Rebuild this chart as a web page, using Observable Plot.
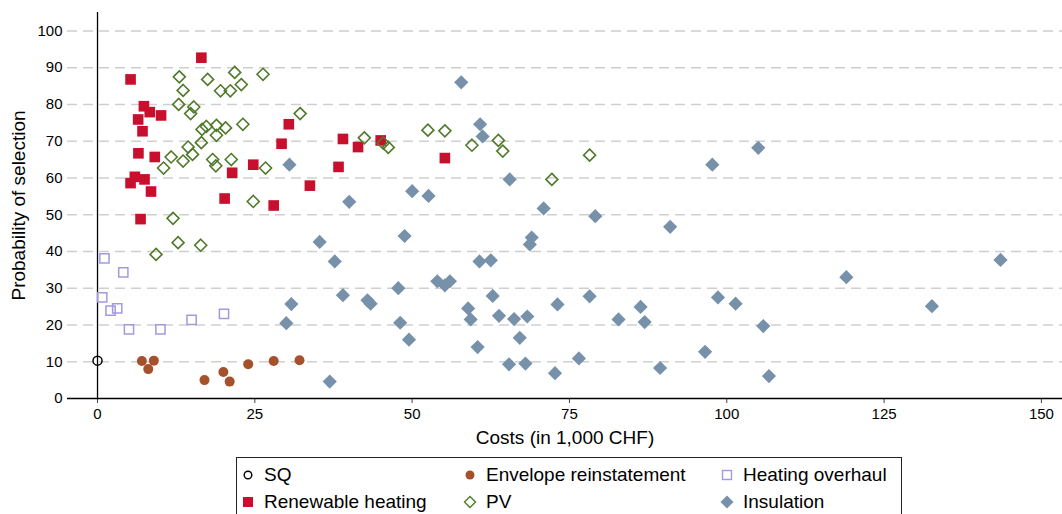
<!DOCTYPE html>
<html>
<head>
<meta charset="utf-8">
<script src="https://cdn.jsdelivr.net/npm/d3@7"></script>
<script src="https://cdn.jsdelivr.net/npm/@observablehq/plot@0.6"></script>
<style>
  html, body { margin: 0; padding: 0; background: #fff; }
  body { width: 1062px; height: 514px; overflow: hidden; position: relative; font-family: "Liberation Sans", Arial, Helvetica, sans-serif; }
  #chart { position: absolute; left: 0; top: 0; }
  #legend { position: absolute; left: 236px; top: 457px; width: 666px; height: 70px; border: 1px solid #222; box-sizing: border-box; }
  .item { position: absolute; font-size: 19px; color: #000; line-height: 22px; white-space: nowrap; }
  .item svg { position: absolute; left: -8px; top: 3px; }
  .item span { position: absolute; left: 16px; top: 0; }
</style>
</head>
<body>
<div id="chart"></div>
<div id="legend"></div>
<script>
// ---- Data (cost in 1,000 CHF, probability of selection in %) ----
const sqCost = [0];
const sqProb = [10.3];

const envelopeCost = [7.05, 8.95, 8.06, 17.0, 20.0, 21.0, 23.95, 28.0, 32.1];
const envelopeProb = [10.2, 10.3, 8.0, 5.0, 7.2, 4.6, 9.3, 10.2, 10.4];

const heatingCost = [1.1, 4.1, 0.75, 2.07, 3.13, 5.0, 10.0, 14.95, 20.1];
const heatingProb = [38.1, 34.3, 27.5, 23.9, 24.5, 18.8, 18.8, 21.4, 23.0];

const renewableCost = [5.25, 16.5, 7.37, 8.3, 10.1, 6.46, 7.15, 6.5, 9.1, 5.93, 7.47, 5.25, 8.5,
  21.4, 24.75, 20.2, 28.0, 29.25, 30.4, 33.75, 38.3, 39.0, 41.4, 45.0, 55.2, 6.84];
const renewableProb = [86.8, 92.7, 79.5, 77.9, 77.0, 75.9, 72.7, 66.7, 65.7, 60.3, 59.6, 58.6, 56.3,
  61.4, 63.6, 54.4, 52.5, 69.3, 74.6, 57.9, 63.0, 70.6, 68.4, 70.2, 65.4, 48.8];

const pvCost = [13.0, 13.6, 17.5, 21.8, 19.55, 21.1, 22.85, 26.3, 12.9, 15.3, 14.8, 32.2, 16.6, 17.3,
  18.9, 20.35, 18.9, 23.1, 16.5, 14.4, 11.7, 13.6, 15.1, 10.5, 18.3, 18.8, 21.25, 26.7, 24.75,
  12.0, 12.8, 16.4, 9.3, 42.4, 45.4, 46.2, 52.5, 55.2, 59.5, 63.7, 64.4, 72.2, 78.2];
const pvProb = [87.5, 83.8, 86.8, 88.7, 83.7, 83.7, 85.4, 88.2, 80.0, 79.3, 77.5, 77.5, 73.2, 74.0,
  74.3, 73.6, 71.6, 74.6, 69.6, 68.4, 65.7, 64.6, 66.4, 62.7, 65.0, 63.3, 65.0, 62.7, 53.6,
  49.0, 42.4, 41.7, 39.2, 70.9, 69.5, 68.3, 73.0, 72.8, 68.9, 70.2, 67.3, 59.6, 66.2];

const insulationCost = [30.5, 40.0, 35.3, 37.7, 39.0, 30.8, 30.0, 36.9, 57.8, 60.8, 61.2, 65.5, 50.0,
  52.6, 70.9, 79.1, 91.0, 48.8, 69.0, 68.7, 60.7, 62.5, 54.0, 55.2, 56.0, 47.8, 42.9, 43.4, 62.8,
  58.9, 59.3, 63.8, 66.2, 68.3, 73.1, 78.2, 86.3, 82.8, 86.95, 48.1, 49.5, 67.1, 60.4, 65.4, 68.0,
  76.5, 72.7, 89.4, 96.55, 98.6, 101.4, 105.8, 106.7, 119.0, 132.6, 143.5, 97.7, 105.0];
const insulationProb = [63.6, 53.5, 42.6, 37.3, 28.1, 25.7, 20.5, 4.6, 86.0, 74.6, 71.3, 59.6, 56.4,
  55.1, 51.7, 49.6, 46.7, 44.2, 43.8, 41.9, 37.3, 37.6, 31.9, 30.8, 31.9, 30.0, 26.7, 25.8, 27.9,
  24.5, 21.5, 22.5, 21.6, 22.3, 25.6, 27.8, 24.9, 21.5, 20.8, 20.6, 16.0, 16.5, 14.0, 9.3, 9.5,
  10.9, 6.9, 8.3, 12.7, 27.5, 25.8, 19.7, 6.1, 33.0, 25.1, 37.7, 63.6, 68.2];

const xTicks = [0, 25, 50, 75, 100, 125, 150];
const yTicks = [0, 10, 20, 30, 40, 50, 60, 70, 80, 90, 100];
const gridTicks = [10, 20, 30, 40, 50, 60, 70, 80, 90, 100];

const seriesNames = ["SQ", "Envelope reinstatement", "Heating overhaul", "Renewable heating", "PV", "Insulation"];

const colors = {
  sq: "#000000",
  envelope: "#a5512b",
  heating: "#a29ae0",
  renewable: "#c8102e",
  pv: "#507a2a",
  insulation: "#7891aa"
};

const toRows = (xs, ys) => xs.map((x, i) => ({cost: x, prob: ys[i]}));
const sq = toRows(sqCost, sqProb);
const envelope = toRows(envelopeCost, envelopeProb);
const heating = toRows(heatingCost, heatingProb);
const renewable = toRows(renewableCost, renewableProb);
const pv = toRows(pvCost, pvProb);
const insulation = toRows(insulationCost, insulationProb);

const font = "'Liberation Sans', Arial, Helvetica, sans-serif";

const chart = Plot.plot({
  width: 1062,
  height: 452,
  marginLeft: 67,
  marginRight: 0,
  marginTop: 12,
  marginBottom: 54,
  style: {fontFamily: font, background: "#fff", color: "#000"},
  x: {domain: [-4.77, 153.35]},
  y: {domain: [0, 105]},
  marks: [
    Plot.ruleY(gridTicks, {stroke: "#cfcfcf", strokeWidth: 1.5, strokeDasharray: "10,6"}),
    Plot.axisY({ticks: yTicks, tickSize: 0, tickPadding: 5, fontSize: 15, label: null}),
    Plot.axisX({ticks: xTicks, tickSize: 5, tickPadding: 5, fontSize: 15, label: null, stroke: "#444"}),
    Plot.ruleX([0], {stroke: "#000", strokeWidth: 1.3}),
    Plot.ruleY([0], {stroke: "#000", strokeWidth: 1.3}),
    Plot.text(["Costs (in 1,000 CHF)"], {frameAnchor: "bottom", dy: 39, fontSize: 19, lineAnchor: "middle", fill: "#000"}),
    Plot.text(["Probability of selection"], {frameAnchor: "left", dx: -49, rotate: -90, fontSize: 19, lineAnchor: "middle", textAnchor: "middle", fill: "#000"}),
    Plot.dot(sq, {x: "cost", y: "prob", r: 4.5, stroke: colors.sq, fill: "none", strokeWidth: 1.5}),
    Plot.dot(envelope, {x: "cost", y: "prob", r: 5, fill: colors.envelope, stroke: "none"}),
    Plot.dot(heating, {x: "cost", y: "prob", symbol: "square", r: 5.2, stroke: colors.heating, fill: "none", strokeWidth: 1.5}),
    Plot.dot(renewable, {x: "cost", y: "prob", symbol: "square", r: 6, fill: colors.renewable, stroke: "none"}),
    Plot.dot(pv, {x: "cost", y: "prob", symbol: "diamond2", r: 5.4, stroke: colors.pv, fill: "none", strokeWidth: 1.6}),
    Plot.dot(insulation, {x: "cost", y: "prob", symbol: "diamond2", r: 6.4, fill: colors.insulation, stroke: "none"})
  ]
});
document.getElementById("chart").appendChild(chart);

// ---- Legend ----
const legendItems = [
  {name: seriesNames[0], col: 0, row: 0, svg: `<circle cx="8" cy="8" r="3.8" fill="none" stroke="${colors.sq}" stroke-width="1.4"/>`},
  {name: seriesNames[1], col: 1, row: 0, svg: `<circle cx="8" cy="8" r="4.5" fill="${colors.envelope}"/>`},
  {name: seriesNames[2], col: 2, row: 0, svg: `<rect x="3.5" y="3.5" width="9" height="9" fill="none" stroke="${colors.heating}" stroke-width="1.4"/>`},
  {name: seriesNames[3], col: 0, row: 1, svg: `<rect x="3" y="3" width="10" height="10" fill="${colors.renewable}"/>`},
  {name: seriesNames[4], col: 1, row: 1, svg: `<path d="M8,2.5L13.5,8L8,13.5L2.5,8Z" fill="none" stroke="${colors.pv}" stroke-width="1.4"/>`},
  {name: seriesNames[5], col: 2, row: 1, svg: `<path d="M8,1.5L14.5,8L8,14.5L1.5,8Z" fill="${colors.insulation}"/>`}
];
const colX = [11, 233, 490];
const rowY = [6, 33];
const legend = document.getElementById("legend");
for (const it of legendItems) {
  const d = document.createElement("div");
  d.className = "item";
  d.style.left = colX[it.col] + "px";
  d.style.top = rowY[it.row] + "px";
  d.innerHTML = `<svg width="16" height="16" viewBox="0 0 16 16">${it.svg}</svg><span>${it.name}</span>`;
  legend.appendChild(d);
}
</script>
</body>
</html>
